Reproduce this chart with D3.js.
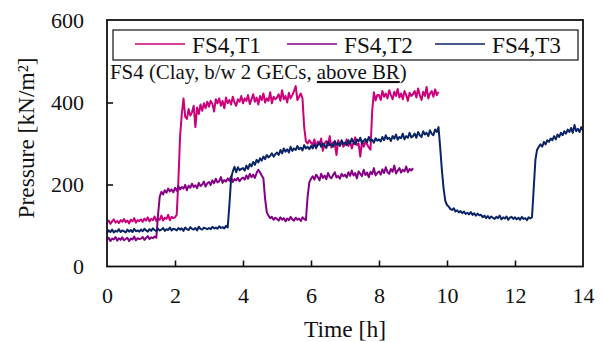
<!DOCTYPE html>
<html><head><meta charset="utf-8">
<script src="https://cdn.jsdelivr.net/npm/d3@7"></script>
<style>body{margin:0;background:#fff}svg{display:block}</style>
</head><body>
<script>
const seriesNames = ["FS4,T1", "FS4,T2", "FS4,T3"];
const seriesColors = ["#cc007a", "#850085", "#0a2466"];
const timeStep = 0.05; // h between samples
const xTicks = [0, 2, 4, 6, 8, 10, 12, 14];
const yTicks = [0, 200, 400, 600];

const t1 = [108,112,104,110,115,107,111,106,113,109,116,108,112,105,114,110,118,107,113,111,
115,109,117,112,120,110,116,113,122,111,118,114,124,112,119,116,126,113,121,118,
120,126,210,318,372,410,365,360,384,368,376,392,340,388,372,395,380,398,386,402,
390,404,396,378,408,398,410,392,404,386,412,398,406,395,414,400,392,408,402,416,
398,410,404,418,396,408,420,402,412,395,416,406,422,400,410,404,425,398,414,408,
412,420,404,430,408,416,400,424,410,418,428,440,406,414,422,410,340,305,300,308,
302,296,310,288,305,298,312,282,300,306,295,318,290,303,299,272,308,296,304,292,
298,310,294,305,288,302,315,296,300,268,306,292,304,298,290,285,380,425,405,418,
418,406,428,414,422,410,430,418,408,426,416,433,412,422,408,428,418,404,424,416,
420,428,412,434,418,406,426,416,438,410,422,428,414,432,418,426];

const t2 = [64,70,62,68,66,72,63,69,65,71,64,67,70,62,68,66,73,64,69,67,
68,72,65,70,74,67,71,69,73,70,125,170,182,176,186,180,190,183,188,181,
192,185,196,188,194,190,199,186,197,192,202,194,198,191,204,196,200,207,195,203,
206,199,210,203,214,205,208,218,204,211,207,215,209,220,206,213,210,216,208,214,
217,212,222,214,226,218,224,216,228,236,230,222,215,165,132,124,118,121,114,119,
116,112,120,114,118,110,117,113,121,115,112,119,114,117,111,120,116,113,170,205,
214,220,212,224,218,210,226,216,222,213,228,219,215,223,230,217,221,214,226,220,
224,217,230,221,234,222,228,215,232,226,220,236,223,229,218,231,225,240,222,228,
232,224,237,228,242,230,226,238,231,246,227,234,240,229,236,232,244,230,238,234,
240];

const t3 = [82,88,84,90,83,87,85,91,84,88,86,83,90,85,89,84,92,86,88,85,
90,86,92,88,85,91,87,93,89,86,92,88,90,94,87,91,89,95,88,92,
91,88,94,90,93,87,95,91,89,96,92,90,94,88,97,92,90,95,93,91,
94,91,97,93,95,92,98,94,96,93,99,95,150,215,232,243,230,242,235,238,
240,234,246,238,250,244,255,248,260,254,264,258,268,262,272,266,270,276,268,274,
278,272,284,276,288,280,286,278,292,282,288,284,294,286,290,283,296,288,292,286,
294,288,298,290,296,302,292,300,295,289,304,296,298,292,306,297,301,294,308,299,
302,296,308,300,312,303,298,310,305,314,300,307,311,303,316,306,309,302,313,307,
310,305,316,308,320,311,314,306,318,312,322,309,316,313,324,310,318,314,326,315,
318,324,314,328,320,316,330,322,326,318,332,324,320,334,328,340,290,235,190,160,
150,146,140,138,142,134,137,132,135,130,134,128,131,127,133,126,130,124,129,125,
126,120,124,118,123,117,122,119,116,121,118,124,115,120,117,122,114,119,121,116,
120,115,119,114,121,116,118,113,120,117,120,190,260,285,292,298,292,304,298,308,
304,312,308,318,310,322,316,326,320,330,324,334,328,338,326,345,330,336,328,340,
332];

const FONT = '"Liberation Serif", "Times New Roman", serif';
const W = 603, H = 342;
const L = 107, R = 583, T = 20.5, B = 266.5;
const svg = d3.select("body").append("svg").attr("width", W).attr("height", H);
const x = d3.scaleLinear().domain([0, 14]).range([L, R]);
const y = d3.scaleLinear().domain([0, 600]).range([B, T]);

function fit(sel, width, base) {
  sel.attr("font-size", base);
  const w = sel.node().getComputedTextLength();
  if (w > 0) sel.attr("font-size", base * width / w);
  return sel;
}

svg.append("clipPath").attr("id", "clip").append("rect")
  .attr("x", L).attr("y", T).attr("width", R - L).attr("height", B - T);

const line = d3.line().x((d, i) => x(i * timeStep)).y(d => y(d));
[t1, t2, t3].forEach((s, k) => {
  svg.append("path").datum(s).attr("clip-path", "url(#clip)")
    .attr("fill", "none").attr("stroke", seriesColors[k])
    .attr("stroke-width", 2).attr("stroke-linejoin", "round")
    .attr("d", line);
});

const ax = svg.append("g").attr("transform", `translate(0,${B})`)
  .call(d3.axisBottom(x).tickValues(xTicks).tickFormat(d3.format("d")).tickSizeInner(-6).tickSizeOuter(0).tickPadding(21));
const ay = svg.append("g").attr("transform", `translate(${L},0)`)
  .call(d3.axisLeft(y).tickValues(yTicks).tickFormat(d3.format("d")).tickSizeInner(-6).tickSizeOuter(0).tickPadding(23));
const probe = svg.append("text").attr("font-family", FONT).text("600");
fit(probe, 33, 22);
const tickSize = +probe.attr("font-size");
probe.remove();
[ax, ay].forEach(g => {
  g.attr("font-family", FONT);
  g.select(".domain").remove();
  g.selectAll(".tick line").attr("stroke", "#111").attr("stroke-width", 1.6);
  g.selectAll(".tick text").attr("font-size", tickSize).attr("font-family", FONT).attr("fill", "#111");
});
ax.selectAll(".tick").filter(d => d === 0 || d === 14).select("line").remove();
ay.selectAll(".tick").filter(d => d === 0 || d === 600).select("line").remove();

svg.append("rect").attr("x", L).attr("y", T - 0.5).attr("width", R - L).attr("height", B - T + 0.5)
  .attr("fill", "none").attr("stroke", "#111").attr("stroke-width", 1.8);

svg.append("rect").attr("x", 113).attr("y", 30).attr("width", 465).attr("height", 30)
  .attr("fill", "#fff").attr("stroke", "#222").attr("stroke-width", 1.3);
const legX = [135, 287, 435];
seriesNames.forEach((n, k) => {
  svg.append("line").attr("x1", legX[k]).attr("x2", legX[k] + 50).attr("y1", 44).attr("y2", 44)
    .attr("stroke", seriesColors[k]).attr("stroke-width", 1.6);
  const t = svg.append("text").attr("x", legX[k] + 57).attr("y", 52.5)
    .attr("font-family", FONT).attr("fill", "#111").text(n);
  fit(t, 69, 23);
});

const ann = svg.append("text").attr("x", 110).attr("y", 79).attr("font-family", FONT).attr("fill", "#111");
ann.append("tspan").text("FS4 (Clay, b/w 2 GECs, ");
ann.append("tspan").attr("text-decoration", "underline").text("above BR");
ann.append("tspan").text(")");
fit(ann, 297, 18);

const xt = svg.append("text").attr("x", (L + R) / 2).attr("y", 337).attr("text-anchor", "middle")
  .attr("font-family", FONT).attr("fill", "#111").text("Time [h]");
fit(xt, 82, 23);
const yt = svg.append("text").attr("transform", "translate(34,138) rotate(-90)").attr("text-anchor", "middle")
  .attr("font-family", FONT).attr("fill", "#111").text("Pressure [kN/m²]");
fit(yt, 161, 23);
</script>
</body></html>
